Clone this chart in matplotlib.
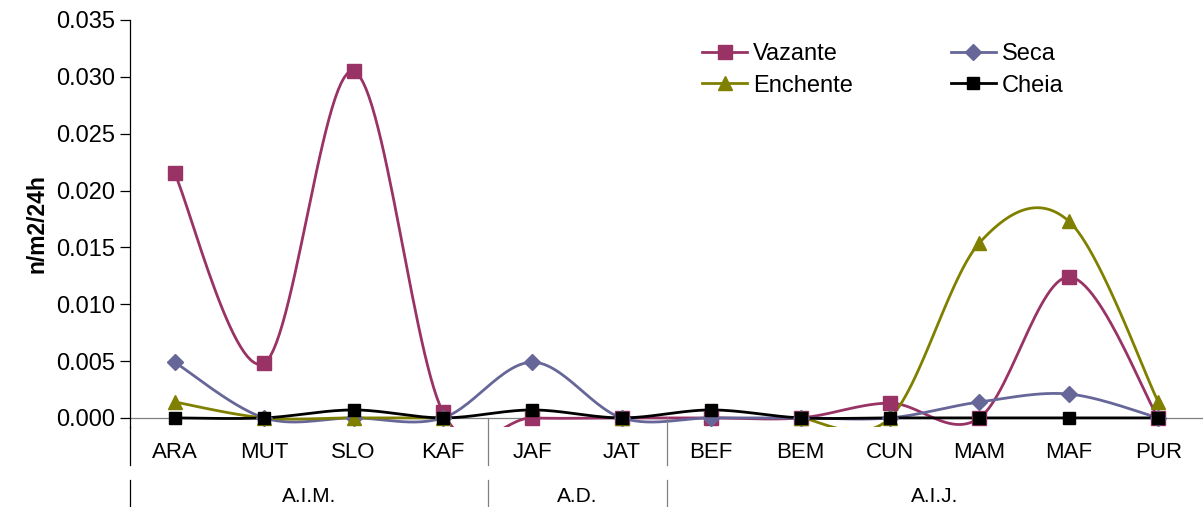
import matplotlib
matplotlib.use("Agg")
import matplotlib.pyplot as plt
import matplotlib.transforms as mtransforms
from matplotlib.lines import Line2D
import numpy as np

plt.rcParams['font.family'] = ['Liberation Sans', 'DejaVu Sans']

nan = np.nan
sites = ['ARA', 'MUT', 'SLO', 'KAF', 'JAF', 'JAT', 'BEF', 'BEM', 'CUN', 'MAM', 'MAF', 'PUR']
groups = ['A.I.M.', 'A.D.', 'A.I.J.']
group_sizes = [4, 2, 6]

vazante = [0.0215, 0.0048, 0.0305, 0.0005, 0.0, 0.0, 0.0, 0.0, 0.0013, 0.0, 0.0124, 0.0]
seca = [0.0049, 0.0, 0.0, 0.0, 0.0049, 0.0, 0.0, 0.0, 0.0, 0.0014, 0.0021, 0.0]
enchente = [0.0014, 0.0, 0.0, 0.0, nan, 0.0, nan, 0.0, 0.0, 0.0154, 0.0173, 0.0014]
cheia = [0.0, 0.0, 0.0007, 0.0, 0.0007, 0.0, 0.0007, 0.0, 0.0, 0.0, 0.0, 0.0]

series = [
    ('Vazante', vazante, '#993366', 's', 9.5),
    ('Seca', seca, '#666699', 'D', 8.5),
    ('Enchente', enchente, '#808000', '^', 9.5),
    ('Cheia', cheia, '#000000', 's', 8.5),
]


def smooth(x, y, n=30):
    # excel-like smoothing (catmull-rom as bezier) on each run of valid points
    xs, ys = [], []
    ok = ~np.isnan(y)
    i = 0
    while i < len(y):
        if not ok[i]:
            i += 1
            continue
        j = i
        while j + 1 < len(y) and ok[j + 1]:
            j += 1
        px = np.array(x[i:j + 1], float)
        py = np.array(y[i:j + 1], float)
        if len(px) > 1:
            t = np.linspace(0, 1, n)
            cx, cy = [], []
            for k in range(len(px) - 1):
                p0 = np.array((px[max(k - 1, 0)], py[max(k - 1, 0)]))
                p1 = np.array((px[k], py[k]))
                p2 = np.array((px[k + 1], py[k + 1]))
                p3 = np.array((px[min(k + 2, len(px) - 1)], py[min(k + 2, len(px) - 1)]))
                b1 = p1 + (p2 - p0) / 6
                b2 = p2 - (p3 - p1) / 6
                pts = (np.outer((1 - t) ** 3, p1) + np.outer(3 * (1 - t) ** 2 * t, b1)
                       + np.outer(3 * (1 - t) * t ** 2, b2) + np.outer(t ** 3, p2))
                cx.extend(pts[:, 0])
                cy.extend(pts[:, 1])
            xs.append(cx)
            ys.append(cy)
        i = j + 1
    return xs, ys


fig = plt.figure(figsize=(12.03, 5.07), dpi=100)
ax = fig.add_axes([130 / 1203, 1 - 427 / 507, 1073 / 1203, 407 / 507])

x = np.arange(len(sites))
ax.axhline(0, color='#808080', lw=0.9, zorder=1)

handles = {}
for name, vals, col, mk, ms in series:
    vals = np.array(vals, float)
    for cx, cy in zip(*smooth(x, vals)):
        ax.plot(cx, cy, color=col, lw=2.0, zorder=2, solid_capstyle='round')
    ax.plot(x, vals, linestyle='none', marker=mk, color=col, markersize=ms, zorder=3, clip_on=False)
    handles[name] = Line2D([], [], color=col, lw=2.0, marker=mk, markersize=ms)

ax.set_xlim(-0.5, len(sites) - 0.5)
ax.set_ylim(-0.0008, 0.035)
yt = np.arange(0, 0.0351, 0.005)
ax.set_yticks(yt)
ax.set_yticklabels([f'{v:.3f}' for v in yt])
ax.tick_params(axis='y', labelsize=17, length=7, width=0.9, direction='out', pad=4)
ax.set_xticks([])
for s in ['top', 'right', 'bottom']:
    ax.spines[s].set_visible(False)
ax.spines['left'].set_linewidth(0.9)
ax.set_ylabel('n/m2/24h', fontsize=16.5, fontweight='bold', labelpad=5)

# category and group labels below the axis
trans = mtransforms.blended_transform_factory(ax.transData, fig.transFigure)
for i, s in enumerate(sites):
    ax.text(i, 1 - 452 / 507, s, transform=trans, ha='center', va='center', fontsize=16)

edges = np.concatenate([[0], np.cumsum(group_sizes)]) - 0.5
for k, g in enumerate(groups):
    mid = (edges[k] + edges[k + 1]) / 2
    ax.text(mid, 1 - 497 / 507, g, transform=trans, ha='center', va='center', fontsize=15)

y0 = 1 - 418 / 507
for e in edges[:-1]:
    top = y0 if e > -0.5 else 1 - 427 / 507
    c = '#808080' if e > -0.5 else 'black'
    ax.plot([e, e], [top, 1 - 465 / 507], transform=trans, color=c, lw=0.9, clip_on=False)
    ax.plot([e, e], [1 - 480 / 507, 0], transform=trans, color=c, lw=0.9, clip_on=False)

order = ['Vazante', 'Enchente', 'Seca', 'Cheia']
ax.legend([handles[n] for n in order], order, ncol=2, frameon=False, fontsize=17,
          loc='upper left', bbox_to_anchor=(551 / 1073, 0.995), columnspacing=4.15,
          handlelength=1.9, handletextpad=0.25, labelspacing=0.4, borderaxespad=0.5)

plt.savefig('out.png', dpi=100)
